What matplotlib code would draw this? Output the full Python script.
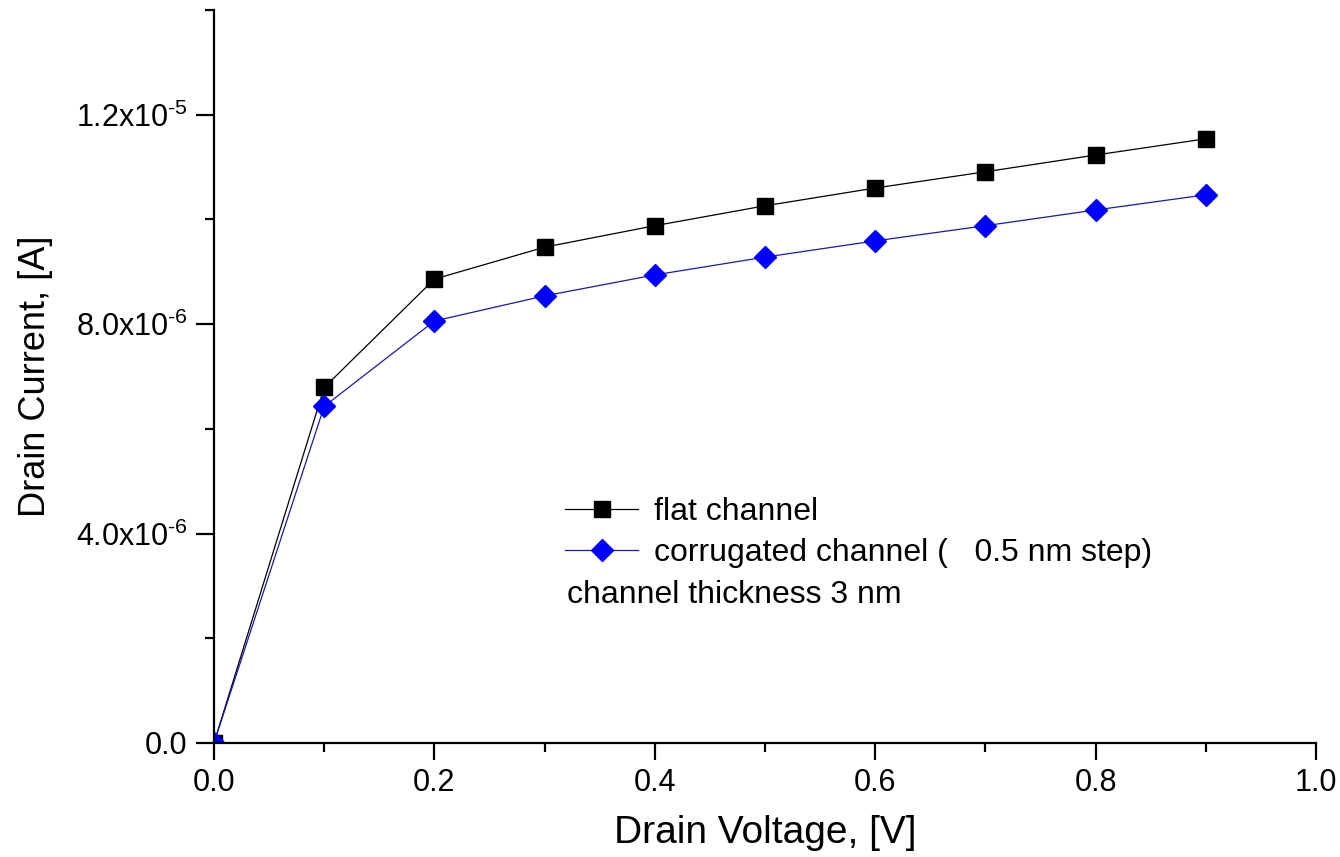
import numpy as np
import matplotlib
matplotlib.use("Agg")
import matplotlib.pyplot as plt
from matplotlib.ticker import MultipleLocator, FuncFormatter

plt.rcParams['font.family'] = ['Liberation Sans', 'DejaVu Sans']
plt.rcParams['mathtext.fontset'] = 'custom'
plt.rcParams['mathtext.rm'] = 'Liberation Sans'
plt.rcParams['mathtext.it'] = 'Liberation Sans'

# DATA
voltage = [0.0, 0.1, 0.2, 0.3, 0.4, 0.5, 0.6, 0.7, 0.8, 0.9]
flat_current = [0.0, 6.79e-6, 8.86e-6, 9.47e-6, 9.88e-6, 10.26e-6,
                10.60e-6, 10.91e-6, 11.23e-6, 11.54e-6]
corr_current = [0.0, 6.43e-6, 8.06e-6, 8.54e-6, 8.94e-6, 9.28e-6,
                9.59e-6, 9.88e-6, 10.18e-6, 10.47e-6]
labels = ["flat channel", "corrugated channel (   0.5 nm step)"]
note = "channel thickness 3 nm"

fig = plt.figure(figsize=(13.4, 8.57), dpi=100)
ax = fig.add_axes([214/1340, 1-743/857, (1316-214)/1340, (743-10)/857])

ax.plot(voltage, flat_current, color='black', lw=0.9, marker='s',
        ms=11, mfc='black', mec='black', label=labels[0])
ax.plot(voltage, corr_current, color='#1a1aa8', lw=0.9, marker='D',
        ms=11, mfc='#0000ff', mec='#0000ff', label=labels[1])

ax.set_xlim(0, 1.0)
ax.set_ylim(0, 1.4e-5)

ax.spines['top'].set_visible(False)
ax.spines['right'].set_visible(False)
ax.spines['left'].set_linewidth(1.6)
ax.spines['bottom'].set_linewidth(1.6)

ax.xaxis.set_major_locator(MultipleLocator(0.2))
ax.xaxis.set_minor_locator(MultipleLocator(0.1))
ax.yaxis.set_major_locator(MultipleLocator(4e-6))
ax.yaxis.set_minor_locator(MultipleLocator(2e-6))


def yfmt(v, pos):
    if v == 0:
        return "0.0"
    e = int(np.floor(np.log10(abs(v))))
    m = v / 10**e
    return "%.1fx10$^{\\text{-}%d}$" % (m, -e)


ax.yaxis.set_major_formatter(FuncFormatter(yfmt))
ax.xaxis.set_major_formatter(FuncFormatter(lambda v, p: "%.1f" % v))

ax.tick_params(which='major', direction='out', length=12, width=1.6,
               labelsize=22, pad=6)
ax.tick_params(which='minor', direction='out', length=6.5, width=1.6)
ax.tick_params(axis='y', which='major', length=13)

ax.set_xlabel("Drain Voltage, [V]", fontsize=28, labelpad=12)
ax.set_ylabel("Drain Current, [A]", fontsize=26, labelpad=16)

ax.legend(loc='upper left', bbox_to_anchor=((565-214)/1102, (743-497)/733),
          frameon=False, fontsize=23, handlelength=2.3, handletextpad=0.5,
          labelspacing=0.35, borderpad=0, borderaxespad=0)
ax.text((567-214)/1102, (743-595)/733, note, transform=ax.transAxes,
        fontsize=23, va='center', ha='left')

fig.savefig("out.png", dpi=100)
